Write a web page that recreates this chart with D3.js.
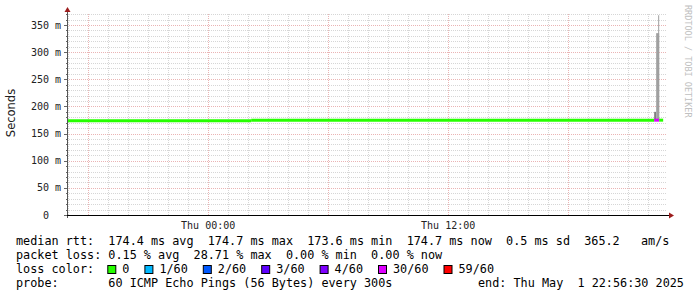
<!DOCTYPE html>
<html lang="en">
<head>
  <meta charset="UTF-8" />
  <title>Smokeping median rtt</title>
  <script src="https://d3js.org/d3.v7.min.js"></script>
  <style>
    body { margin: 0; background: #fff; }
    svg { display: block; }
    text { font-family: 'DejaVu Sans Mono', monospace; white-space: pre; }
  </style>
</head>
<body>
  <svg width="697" height="297"></svg>

  <script>
    // graph end and span
    const endTime = new Date(2025, 4, 1, 22, 56, 30);
    const spanHours = 30;

    // median rtt, one value per period [medTimes[i], medTimes[i+1])
    const medTimes = [
      new Date(2025, 3, 30, 16, 57), new Date(2025, 4, 1, 2, 9),
      new Date(2025, 4, 1, 22, 18), new Date(2025, 4, 1, 22, 33),
      new Date(2025, 4, 1, 22, 45)
    ];
    const medValues = [173.6, 174.7, 174.7, 174.7]; // ms
    const medLoss = [0, 0, 17, 0];                  // lost pings of 60

    // smoke (ping spread) bands near the end
    const smokeStart = [new Date(2025, 4, 1, 22, 18), new Date(2025, 4, 1, 22, 24), new Date(2025, 4, 1, 22, 30)];
    const smokeEnd   = [new Date(2025, 4, 1, 22, 24), new Date(2025, 4, 1, 22, 33), new Date(2025, 4, 1, 22, 33)];
    const smokeLo    = [174, 174, 174];
    const smokeHi    = [190, 335, 368];
    const smokeShade = ["#7f7f7f", "#a0a0a0", "#a0a0a0"];

    // loss colour legend
    const lossLevels = [0, 1, 2, 3, 4, 30, 59];
    const lossLabels = ["0", "1/60", "2/60", "3/60", "4/60", "30/60", "59/60"];
    const lossColors = ["#26ff00", "#00b8ff", "#0059ff", "#5e00ff", "#7e00ff", "#dd00ff", "#ff0000"];

    const yTicks = [0, 50, 100, 150, 200, 250, 300, 350];

    const legendLines = [
      "median rtt:  174.4 ms avg  174.7 ms max  173.6 ms min  174.7 ms now  0.5 ms sd  365.2   am/s",
      "packet loss: 0.15 % avg  28.71 % max  0.00 % min  0.00 % now"
    ];
    const probeText = "probe:       60 ICMP Echo Pings (56 Bytes) every 300s";
    const endText = "end: Thu May  1 22:56:30 2025";

    const svg = d3.select("svg");
    const left = 67, right = 667, bottom = 215;

    const x = d3.scaleTime()
      .domain([d3.timeHour.offset(endTime, -spanHours), endTime])
      .range([left, right]);
    const y = d3.scaleLinear()
      .domain([0, 370])
      .range([bottom, bottom - 370 * 190 / 350]);
    const plotTop = y(370) - 1;

    function lossColor(l) {
      for (let i = 0; i < lossLevels.length; i++) if (l <= lossLevels[i]) return lossColors[i];
      return lossColors[lossColors.length - 1];
    }

    // grid
    const minorCol = "#d6d6d6", majorCol = "#eab4b4";
    const grid = svg.append("g");
    const minorY = d3.range(10, 371, 10).filter(v => v % 50 !== 0);
    grid.selectAll("line.hmin").data(minorY).join("line")
      .attr("x1", left).attr("x2", right)
      .attr("y1", d => Math.round(y(d)) + 0.5).attr("y2", d => Math.round(y(d)) + 0.5)
      .attr("stroke", minorCol).attr("stroke-dasharray", "1,1");
    const minorX = d3.timeHour.every(1).range(x.domain()[0], endTime).filter(d => d.getHours() % 6 !== 0);
    grid.selectAll("line.vmin").data(minorX).join("line")
      .attr("x1", d => Math.round(x(d)) + 0.5).attr("x2", d => Math.round(x(d)) + 0.5)
      .attr("y1", bottom).attr("y2", plotTop)
      .attr("stroke", minorCol).attr("stroke-dasharray", "1,1");
    grid.selectAll("line.hmaj").data(yTicks.filter(d => d > 0)).join("line")
      .attr("x1", left).attr("x2", right)
      .attr("y1", d => Math.round(y(d)) + 0.5).attr("y2", d => Math.round(y(d)) + 0.5)
      .attr("stroke", majorCol).attr("stroke-dasharray", "1,1");
    const majorX = d3.timeHour.every(6).range(x.domain()[0], endTime);
    grid.selectAll("line.vmaj").data(majorX).join("line")
      .attr("x1", d => Math.round(x(d)) + 0.5).attr("x2", d => Math.round(x(d)) + 0.5)
      .attr("y1", bottom).attr("y2", plotTop)
      .attr("stroke", majorCol).attr("stroke-dasharray", "1,1");

    // smoke
    svg.append("g").selectAll("rect").data(smokeStart).join("rect")
      .attr("x", (d, i) => x(d))
      .attr("width", (d, i) => x(smokeEnd[i]) - x(d))
      .attr("y", (d, i) => y(smokeHi[i]))
      .attr("height", (d, i) => y(smokeLo[i]) - y(smokeHi[i]))
      .attr("fill", (d, i) => smokeShade[i]);

    // median line, coloured by loss
    const line = d3.line().x(d => x(d[0])).y(d => y(d[1])).curve(d3.curveStepAfter);
    svg.append("g").selectAll("path").data(medValues).join("path")
      .attr("d", (v, i) => line([[medTimes[i], v], [medTimes[i + 1], v]]))
      .attr("fill", "none")
      .attr("stroke", (v, i) => lossColor(medLoss[i]))
      .attr("stroke-width", 3);

    // axes
    const ax = svg.append("g");
    ax.append("line").attr("x1", left + 0.5).attr("x2", left + 0.5)
      .attr("y1", bottom + 3).attr("y2", 10).attr("stroke", "#555");
    ax.append("line").attr("x1", left - 3).attr("x2", right + 2)
      .attr("y1", bottom + 0.5).attr("y2", bottom + 0.5).attr("stroke", "#000");
    ax.append("path").attr("d", `M${left + 0.5},7 L${left - 2.5},12 L${left + 3.5},12 Z`).attr("fill", "#9c1c1c");
    ax.append("path").attr("d", `M${right + 7},${bottom + 0.5} L${right + 2},${bottom - 2.5} L${right + 2},${bottom + 3.5} Z`).attr("fill", "#9c1c1c");

    ax.selectAll("line.ytick").data(d3.range(0, 371, 10)).join("line")
      .attr("x1", d => d % 50 === 0 ? left - 3 : left - 1).attr("x2", left)
      .attr("y1", d => Math.round(y(d)) + 0.5).attr("y2", d => Math.round(y(d)) + 0.5)
      .attr("stroke", "#666");

    ax.selectAll("text.ylab").data(yTicks).join("text")
      .attr("x", 61).attr("y", d => y(d) + 3.5)
      .attr("text-anchor", "end")
      .attr("font-size", 10).attr("fill", "#222")
      .text(d => d === 0 ? "0  " : d + " m");

    const labelX = d3.timeHour.every(12).range(x.domain()[0], endTime);
    ax.selectAll("text.xlab").data(labelX).join("text")
      .attr("x", d => x(d)).attr("y", 229)
      .attr("text-anchor", "middle")
      .attr("font-size", 10).attr("fill", "#222")
      .text(d3.timeFormat("%a %H:%M"));

    svg.append("text")
      .attr("transform", "translate(15,113) rotate(-90)")
      .attr("text-anchor", "middle")
      .style("font-family", "'DejaVu Sans', sans-serif")
      .attr("font-size", 11.5).attr("fill", "#222")
      .text("Seconds");

    svg.append("text")
      .attr("transform", "translate(685,5) rotate(90)")
      .attr("font-size", 8.5).attr("fill", "#c0c0c0")
      .text("RRDTOOL / TOBI OETIKER");

    // legend
    const lg = svg.append("g").attr("font-size", 11.8).attr("fill", "#000");
    const cw = 7.1;
    lg.selectAll("text.line").data(legendLines).join("text")
      .attr("x", 16).attr("y", (d, i) => 245 + i * 14)
      .text(d => d);
    lg.append("text").attr("x", 16).attr("y", 273).text("loss color:");
    let bx = 16 + 13 * cw - 1;
    lossLabels.forEach((lab, i) => {
      lg.append("rect").attr("x", bx + 0.5).attr("y", 265.5).attr("width", 8).attr("height", 8)
        .attr("fill", lossColors[i]).attr("stroke", "#000");
      lg.append("text").attr("x", bx + 15).attr("y", 273).text(lab);
      bx = bx + 15 + lab.length * cw + 15;
    });
    lg.append("text").attr("x", 16).attr("y", 287).text(probeText);
    lg.append("text").attr("x", 478).attr("y", 287).text(endText);
  </script>
</body>
</html>
